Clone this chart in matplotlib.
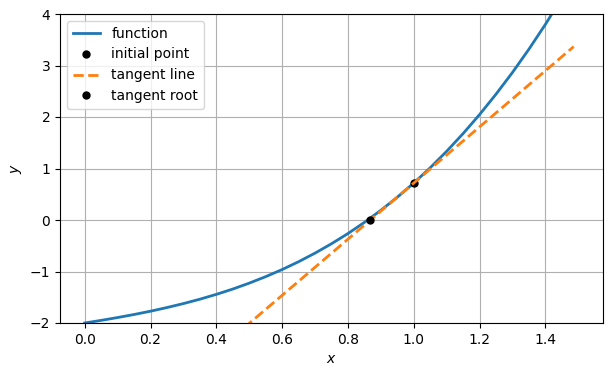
import numpy as np
import matplotlib
matplotlib.use("Agg")
import matplotlib.pyplot as plt

# curve values
x = [0.00, 0.05, 0.10, 0.15, 0.20, 0.25, 0.30, 0.35, 0.40, 0.45, 0.50,
     0.55, 0.60, 0.65, 0.70, 0.75, 0.80, 0.85, 0.90, 0.95, 1.00, 1.05,
     1.10, 1.15, 1.20, 1.25, 1.30, 1.35, 1.40, 1.45, 1.50]
y = [-2.000, -1.949, -1.894, -1.835, -1.771, -1.700, -1.623, -1.538,
     -1.444, -1.341, -1.226, -1.100, -0.962, -0.810, -0.643, -0.461,
     -0.263, -0.046, 0.189, 0.443, 0.718, 1.015, 1.335, 1.679, 2.048,
     2.444, 2.866, 3.318, 3.799, 4.312, 4.857]

x0, y0 = [1.0], [0.718]
tan_x = [0.45, 1.486]
tan_y = [-2.28, 3.367]
root_x, root_y = [0.868], [0.0]

fig, ax = plt.subplots(figsize=(6.13, 3.76), dpi=100)
fig.subplots_adjust(left=60/613, right=603/613, top=1-14/376, bottom=1-323/376)

ax.plot(x, y, lw=2, label="function")
ax.plot(x0, y0, "ko", ms=5, label="initial point")
ax.plot(tan_x, tan_y, "--", lw=2, label="tangent line")
ax.plot(root_x, root_y, "ko", ms=5, label="tangent root")

ax.set_ylim(-2, 4)
ax.set_xlabel("$x$")
ax.set_ylabel("$y$")
ax.grid(True)
ax.legend(loc="upper left")

fig.savefig("out.png")
